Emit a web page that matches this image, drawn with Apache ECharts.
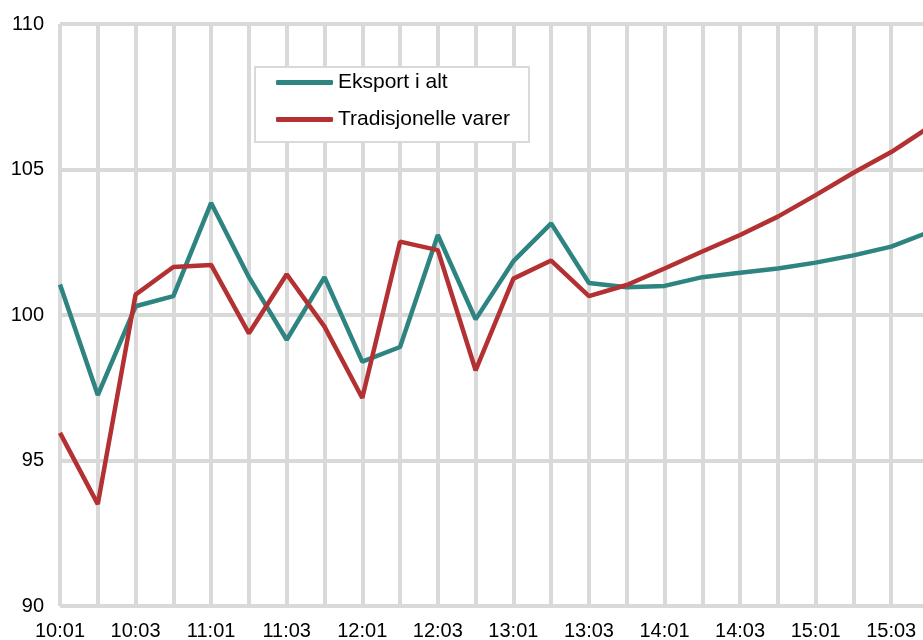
<!DOCTYPE html>
<html lang="no">
<head>
    <meta charset="UTF-8">
    <title>Eksport</title>
    <script src="https://cdn.jsdelivr.net/npm/echarts@6/dist/echarts.min.js"></script>
    <style>
        *{margin:0;padding:0;}
        html,body{width:100%;height:100%;overflow:hidden;background:#fff;}
        .container{width:923px;height:640px;}
    </style>
</head>
<body>
<div class="container"></div>
<script>
    // kvartaler 10:01 - 15:04
    let quarters=['10:01','10:02','10:03','10:04','11:01','11:02','11:03','11:04',
        '12:01','12:02','12:03','12:04','13:01','13:02','13:03','13:04',
        '14:01','14:02','14:03','14:04','15:01','15:02','15:03','15:04'];
    let eksportIAlt=[101.05,97.25,100.3,100.65,103.85,101.3,99.15,101.3,
        98.4,98.9,102.75,99.85,101.85,103.15,101.1,100.95,
        101.0,101.3,101.45,101.6,101.8,102.05,102.35,102.85];
    let tradisjonelle=[95.95,93.5,100.7,101.65,101.72,99.37,101.4,99.6,
        97.15,102.52,102.23,98.1,101.25,101.87,100.65,101.03,
        101.6,102.18,102.75,103.38,104.12,104.89,105.6,106.45];
    let yTicks={min:90,max:110,step:5};

    let gridColor='#d9d9d9';
    let font='"Liberation Sans", Arial, sans-serif';

    let chart=echarts.init(document.querySelector('.container'));
    let options={
        animation:false,
        backgroundColor:'#fff',
        // plottet fortsetter litt forbi høyre kant (15:04 ligger utenfor bildet)
        grid:{left:60,width:869,top:24,bottom:34,outerBoundsMode:'none',containLabel:false},
        legend:{
            orient:'vertical',
            left:255,
            top:67,
            padding:[5,19,12,21],
            itemGap:16,
            itemWidth:57,
            itemHeight:5,
            icon:'roundRect',
            backgroundColor:'#fff',
            borderColor:gridColor,
            borderWidth:2,
            textStyle:{fontFamily:font,fontSize:21,color:'#000',lineHeight:21},
            data:['Eksport i alt','Tradisjonelle varer']
        },
        xAxis:{
            type:'category',
            data:quarters,
            boundaryGap:false,
            axisLine:{show:false},
            axisTick:{show:false},
            axisLabel:{interval:1,fontFamily:font,fontSize:20,color:'#000',margin:15},
            splitLine:{show:true,interval:0,lineStyle:{color:gridColor,width:4}}
        },
        yAxis:{
            type:'value',
            min:yTicks.min,
            max:yTicks.max,
            interval:yTicks.step,
            axisLine:{show:false},
            axisTick:{show:false},
            axisLabel:{fontFamily:font,fontSize:20,color:'#000',margin:16},
            splitLine:{lineStyle:{color:gridColor,width:4}}
        },
        series:[
            {
                name:'Eksport i alt',
                type:'line',
                data:eksportIAlt,
                symbol:'none',
                z:3,
                lineStyle:{color:'#2e8481',width:4.5},
                itemStyle:{color:'#2e8481'}
            },
            {
                name:'Tradisjonelle varer',
                type:'line',
                data:tradisjonelle,
                symbol:'none',
                z:4,
                lineStyle:{color:'#b33132',width:4.5},
                itemStyle:{color:'#b33132'}
            }
        ]
    };
    chart.setOption(options);
</script>
</body>
</html>
